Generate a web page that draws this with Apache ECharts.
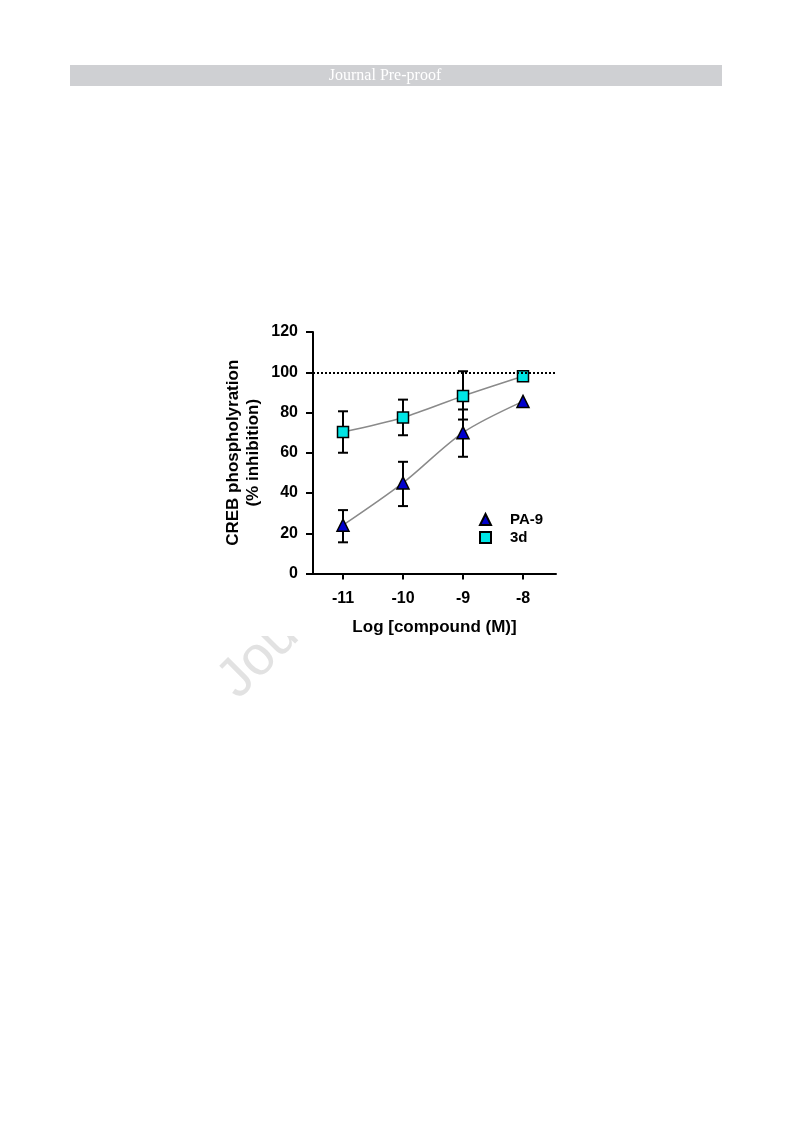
<!DOCTYPE html>
<html>
<head>
<meta charset="utf-8">
<script src="https://cdn.jsdelivr.net/npm/echarts@6/dist/echarts.min.js"></script>
<style>
  html, body { margin: 0; padding: 0; background: #fff; }
  #chart { width: 793px; height: 1123px; }
</style>
</head>
<body>
<div id="chart"></div>
<script>
// ---- data ----
const logConc = [-11, -10, -9, -8];
const xTicks = [-11, -10, -9, -8];
const yTicks = [0, 20, 40, 60, 80, 100, 120];
const pa9Mean = [24, 45, 70, 85.5];
const pa9Low  = [15.5, 33.5, 58, null];
const pa9High = [31.5, 55.5, 81.5, null];
const d3Mean  = [70.3, 77.5, 88.2, 98];
const d3Low   = [60, 68.7, 76.5, null];
const d3High  = [80.6, 86.4, 100.5, null];
const seriesNames = ['PA-9', '3d'];
const yAxisTitle = 'CREB phospholyration\n(% inhibition)';
const xAxisTitle = 'Log [compound (M)]';
const headerText = 'Journal Pre-proof';
const referenceLevel = 100;

const chart = echarts.init(document.getElementById('chart'), null, { renderer: 'canvas' });

function pairs(xs, ys) { return xs.map((x, i) => [x, ys[i]]); }
function errData(xs, lo, hi) {
  const out = [];
  xs.forEach((x, i) => { if (lo[i] != null && hi[i] != null) out.push([x, lo[i], hi[i]]); });
  return out;
}
function errRender(params, api) {
  const x = api.value(0);
  const p1 = api.coord([x, api.value(1)]);
  const p2 = api.coord([x, api.value(2)]);
  const hw = 5;
  const style = { stroke: '#000', lineWidth: 2 };
  return {
    type: 'group',
    children: [
      { type: 'line', shape: { x1: p1[0], y1: p1[1], x2: p2[0], y2: p2[1] }, style },
      { type: 'line', shape: { x1: p1[0] - hw, y1: p1[1], x2: p1[0] + hw, y2: p1[1] }, style },
      { type: 'line', shape: { x1: p2[0] - hw, y1: p2[1], x2: p2[0] + hw, y2: p2[1] }, style }
    ]
  };
}

const boldFont = { fontFamily: 'Liberation Sans, Arial, sans-serif', fontWeight: 'bold', color: '#000' };

chart.setOption({
  animation: false,
  backgroundColor: '#fff',
  graphic: [
    { type: 'text', z: -3, x: 247, y: 709, rotation: Math.PI / 4,
      style: { text: headerText, fill: '#e2e2e2', font: '55px "Liberation Sans", Arial, sans-serif',
               textVerticalAlign: 'bottom', textAlign: 'left' } },
    { type: 'rect', z: -2, shape: { x: 215, y: 300, width: 362, height: 336 }, style: { fill: '#fff' } },
    { type: 'rect', z: -1, shape: { x: 70, y: 65, width: 652, height: 21 }, style: { fill: '#cfd0d3' } },
    { type: 'text', z: -1, x: 385, y: 75.5,
      style: { text: headerText, fill: '#fff', font: '16px "Liberation Serif", "Times New Roman", serif',
               textAlign: 'center', textVerticalAlign: 'middle' } }
  ],
  grid: { left: 313, top: 332, width: 243, height: 241.5, containLabel: false },
  legend: {
    orient: 'vertical', left: 474, top: 507, itemWidth: 11, itemHeight: 11, itemGap: 3,
    textStyle: Object.assign({ fontSize: 15, padding: [0, 0, 0, 14] }, boldFont),
    data: [{ name: seriesNames[0], icon: 'triangle' }, { name: seriesNames[1], icon: 'rect' }]
  },
  xAxis: {
    type: 'value', min: -11.5, max: -7.45,
    name: xAxisTitle, nameLocation: 'middle', nameGap: 45,
    nameTextStyle: Object.assign({ fontSize: 17 }, boldFont),
    axisLine: { show: true, onZero: false, lineStyle: { color: '#000', width: 2 } },
    axisTick: { show: true, customValues: xTicks, length: 6, lineStyle: { color: '#000', width: 2 } },
    axisLabel: Object.assign({ customValues: xTicks, fontSize: 16, margin: 17,
      formatter: v => String(v) }, boldFont),
    splitLine: { show: false }
  },
  yAxis: {
    type: 'value', min: 0, max: 120, interval: 20,
    name: yAxisTitle, nameLocation: 'middle', nameRotate: 90, nameGap: 50,
    nameTextStyle: Object.assign({ fontSize: 17, lineHeight: 20, align: 'center' }, boldFont),
    axisLine: { show: true, lineStyle: { color: '#000', width: 2 } },
    axisTick: { show: true, length: 7, lineStyle: { color: '#000', width: 2 } },
    axisLabel: Object.assign({ fontSize: 16, margin: 15,
      customValues: yTicks }, boldFont),
    splitLine: { show: false }
  },
  series: [
    {
      type: 'custom', name: 'errPA9', z: 2, renderItem: errRender,
      data: errData(logConc, pa9Low, pa9High), encode: { x: 0, y: [1, 2] }, silent: true
    },
    {
      type: 'custom', name: 'err3d', z: 2, renderItem: errRender,
      data: errData(logConc, d3Low, d3High), encode: { x: 0, y: [1, 2] }, silent: true
    },
    {
      type: 'line', name: seriesNames[0], z: 3, smooth: 0.3,
      data: pairs(logConc, pa9Mean),
      symbol: 'triangle', symbolSize: 12,
      lineStyle: { color: '#8a8a8a', width: 1.5 },
      itemStyle: { color: '#0000cc', borderColor: '#000', borderWidth: 1.5 }
    },
    {
      type: 'line', name: seriesNames[1], z: 3, smooth: 0.3,
      data: pairs(logConc, d3Mean),
      symbol: 'rect', symbolSize: 11,
      lineStyle: { color: '#8a8a8a', width: 1.5 },
      itemStyle: { color: '#00e5e5', borderColor: '#000', borderWidth: 1.5 },
      markLine: {
        silent: true, symbol: ['none', 'none'], label: { show: false },
        lineStyle: { color: '#000', type: [2, 2], width: 2 },
        data: [{ yAxis: referenceLevel }]
      }
    }
  ]
});
</script>
</body>
</html>
